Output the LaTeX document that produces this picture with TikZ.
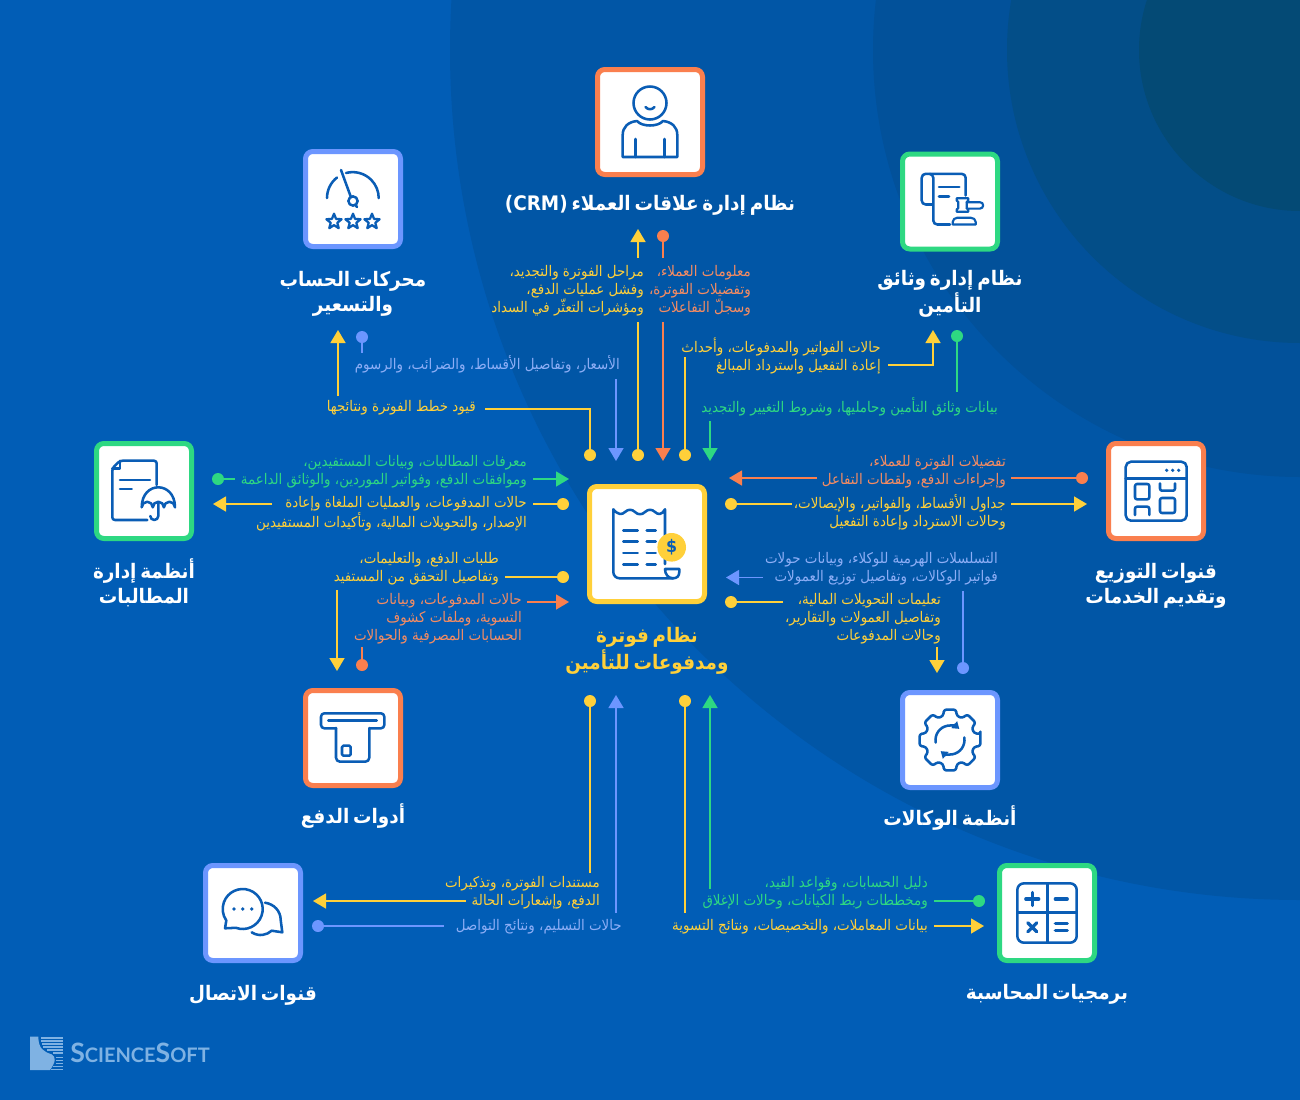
\documentclass[tikz,border=0pt]{standalone}
\usepackage{fontspec}
\usetikzlibrary{arrows.meta}
\TeXXeTstate=1
\newfontfamily\arabicfont[Script=Arabic,FakeStretch=0.915]{DejaVu Sans}
\newfontfamily\titlefont[Script=Arabic,FakeStretch=0.92,WordSpace=0.6]{DejaVu Sans}
\newfontfamily\logofont{Lato}
\definecolor{bgA}{HTML}{015DB6}
\definecolor{bgB}{HTML}{0156A6}
\definecolor{bgC}{HTML}{02519A}
\definecolor{bgD}{HTML}{034E88}
\definecolor{bgE}{HTML}{044A75}
\definecolor{yel}{HTML}{FFD03A}
\definecolor{org}{HTML}{FA7F4E}
\definecolor{blu}{HTML}{6C96FF}
\definecolor{grn}{HTML}{2ED882}
\definecolor{tblu}{HTML}{8DAEF6}
\definecolor{torg}{HTML}{F58C62}
\definecolor{ink}{HTML}{0A5DB5}
\definecolor{logoc}{HTML}{7FB2E3}
\newcommand\rtl[1]{\beginR\rule[-3.4pt]{0pt}{13.5pt}#1\endR}
\newcommand\ttlr[1]{\beginR\rule[-4.4pt]{0pt}{18.75pt}#1\endR}
\newcommand\iconstar[2]{\draw[iconl,shift={(#1,#2)},line width=1.7pt] (-90:8)--(-54:3.5)--(-18:8)--(18:3.5)--(54:8)--(90:3.5)--(126:8)--(162:3.5)--(198:8)--(234:3.5)--cycle;}
\tikzset{
  sbox/.style={draw,fill=white,line width=3.75pt,rounded corners=5.5pt,minimum size=71.25pt,inner sep=0pt},
  lbl/.style={font=\arabicfont\fontsize{11}{13.5}\selectfont,align=right,anchor=east,inner sep=0pt},
  ttl/.style={font=\titlefont\bfseries\fontsize{15}{18.75}\selectfont,align=center,anchor=center,inner sep=0pt,text=white},
  jdot/.style={circle,fill=#1,minimum size=9pt,inner sep=0pt},
  wire/.style={draw=#1,line width=1.15pt},
  arr/.style={draw=#1,line width=1.15pt,-{Triangle[length=9.75pt,width=11.25pt,fill=#1]}},
  iconl/.style={draw=ink,line width=1.9pt,line cap=round,line join=round},
}
\begin{document}
\begin{tikzpicture}[x=0.75pt,y=-0.75pt]
\useasboundingbox (0,0) rectangle (1300,1100);
\begin{scope}
\clip (0,0) rectangle (1300,1100);
\fill[bgA] (0,0) rectangle (1300,1100);
\fill[bgB] (1300,50) circle[radius=850];
\fill[bgC] (1300,50) circle[radius=427];
\fill[bgD] (1300,50) circle[radius=293];
\fill[bgE] (1300,50) circle[radius=161];
\end{scope}

% ---------- boxes
\node[sbox,draw=org,minimum size=78.75pt] (crm) at (650,122) {};
\node[sbox,draw=blu] (pricing) at (353,199) {};
\node[sbox,draw=grn] (policy) at (950,201.5) {};
\node[sbox,draw=grn] (claims) at (144,491) {};
\node[sbox,draw=org] (dist) at (1156,491) {};
\node[sbox,draw=yel,minimum size=86.25pt] (core) at (647,544) {};
\node[sbox,draw=org] (pay) at (353,738) {};
\node[sbox,draw=blu] (agency) at (950,740) {};
\node[sbox,draw=blu] (comm) at (253,913) {};
\node[sbox,draw=grn] (acc) at (1047,913) {};

% ---------- titles
\node[ttl] (tcrm) at (650,204) {\beginL(CRM) \endL\ttlr{نظام إدارة علاقات العملاء}};
\node[ttl] (tpricing) at (353,292.5) {\ttlr{محركات الحساب}\\\ttlr{والتسعير}};
\node[ttl] (tpolicy) at (950,292.5) {\ttlr{نظام إدارة وثائق}\\\ttlr{التأمين}};
\node[ttl] (tclaims) at (144,583.5) {\ttlr{أنظمة إدارة}\\\ttlr{المطالبات}};
\node[ttl] (tdist) at (1156,584.5) {\ttlr{قنوات التوزيع}\\\ttlr{وتقديم الخدمات}};
\node[ttl,text=yel] (tcore) at (647,649.5) {\ttlr{نظام فوترة}\\\ttlr{ومدفوعات للتأمين}};
\node[ttl] (tpay) at (353,816) {\ttlr{أدوات الدفع}};
\node[ttl] (tagency) at (950,818) {\ttlr{أنظمة الوكالات}};
\node[ttl] (tcomm) at (253,994) {\ttlr{قنوات الاتصال}};
\node[ttl] (tacc) at (1047,993) {\ttlr{برمجيات المحاسبة}};

% ---------- labels
\node[lbl,text=yel] (l1) at (644,290) {\rtl{مراحل الفوترة والتجديد،}\\\rtl{وفشل عمليات الدفع،}\\\rtl{ومؤشرات التعثّر في السداد}};
\node[lbl,text=torg] (l2) at (751,290) {\rtl{معلومات العملاء،}\\\rtl{وتفضيلات الفوترة،}\\\rtl{وسجلّ التفاعلات}};
\node[lbl,text=tblu] (l3) at (620,365) {\rtl{الأسعار، وتفاصيل الأقساط، والضرائب، والرسوم}};
\node[lbl,text=yel] (l4) at (476,407) {\rtl{قيود خطط الفوترة ونتائجها}};
\node[lbl,text=yel] (l5) at (881,356) {\rtl{حالات الفواتير والمدفوعات، وأحداث}\\\rtl{إعادة التفعيل واسترداد المبالغ}};
\node[lbl,text=grn] (l6) at (998,407) {\rtl{بيانات وثائق التأمين وحامليها، وشروط التغيير والتجديد}};
\node[lbl,text=grn] (l7) at (527,471) {\rtl{معرفات المطالبات، وبيانات المستفيدين،}\\\rtl{وموافقات الدفع، وفواتير الموردين، والوثائق الداعمة}};
\node[lbl,text=yel] (l8) at (527,513) {\rtl{حالات المدفوعات، والعمليات الملغاة وإعادة}\\\rtl{الإصدار، والتحويلات المالية، وتأكيدات المستفيدين}};
\node[lbl,text=yel] (l9) at (499,568) {\rtl{طلبات الدفع، والتعليمات،}\\\rtl{وتفاصيل التحقق من المستفيد}};
\node[lbl,text=torg] (l10) at (522,618) {\rtl{حالات المدفوعات، وبيانات}\\\rtl{التسوية، وملفات كشوف}\\\rtl{الحسابات المصرفية والحوالات}};
\node[lbl,text=torg] (l11) at (1006,471) {\rtl{تفضيلات الفوترة للعملاء،}\\\rtl{وإجراءات الدفع، ولقطات التفاعل}};
\node[lbl,text=yel] (l12) at (1006,513) {\rtl{جداول الأقساط، والفواتير، والإيصالات،}\\\rtl{وحالات الاسترداد وإعادة التفعيل}};
\node[lbl,text=tblu] (l13) at (998,568) {\rtl{التسلسلات الهرمية للوكلاء، وبيانات حولات}\\\rtl{فواتير الوكالات، وتفاصيل توزيع العمولات}};
\node[lbl,text=yel] (l14) at (941,618) {\rtl{تعليمات التحويلات المالية،}\\\rtl{وتفاصيل العمولات والتقارير،}\\\rtl{وحالات المدفوعات}};
\node[lbl,text=yel] (l15) at (600,892) {\rtl{مستندات الفوترة، وتذكيرات}\\\rtl{الدفع، وإشعارات الحالة}};
\node[lbl,text=tblu] (l16) at (622,926) {\rtl{حالات التسليم، ونتائج التواصل}};
\node[lbl,text=grn] (l17) at (928,892) {\rtl{دليل الحسابات، وقواعد القيد،}\\\rtl{ومخططات ربط الكيانات، وحالات الإغلاق}};
\node[lbl,text=yel] (l18) at (928,926) {\rtl{بيانات المعاملات، والتخصيصات، ونتائج التسوية}};

% ---------- connector end points: dots
\node[jdot=yel] (d1) at (638,455) {};
\node[jdot=org] (d2) at (663,236) {};
\node[jdot=blu] (d3) at (362,337) {};
\node[jdot=yel] (d4) at (590,455) {};
\node[jdot=yel] (d5) at (685,455) {};
\node[jdot=grn] (d6) at (957,336) {};
\node[jdot=grn] (d7) at (218,479) {};
\node[jdot=yel] (d8) at (563,504) {};
\node[jdot=yel] (d9) at (563,577) {};
\node[jdot=org] (d10) at (362,665) {};
\node[jdot=org] (d11) at (1082,478) {};
\node[jdot=yel] (d12) at (731,504) {};
\node[jdot=blu] (d13) at (963,668) {};
\node[jdot=yel] (d14) at (731,602) {};
\node[jdot=yel] (d15) at (590,701) {};
\node[jdot=blu] (d16) at (318,926) {};
\node[jdot=yel] (d17) at (685,701) {};
\node[jdot=grn] (d18) at (979,901) {};

% ---------- connector coordinates
\coordinate (c1a) at (638,322); \coordinate (c1b) at (638,258); \coordinate (c1t) at (638,229);
\coordinate (c2a) at (663,258); \coordinate (c2b) at (663,322); \coordinate (c2t) at (663,461);
\coordinate (c3a) at (362,353); \coordinate (c3b) at (616,379); \coordinate (c3t) at (616,461);
\coordinate (c4a) at (485,409); \coordinate (c4b) at (338,396); \coordinate (c4t) at (338,330);
\coordinate (c5a) at (685,357); \coordinate (c5b) at (888,365); \coordinate (c5t) at (933,330);
\coordinate (c6a) at (957,392); \coordinate (c6b) at (710,421); \coordinate (c6t) at (710,461);
\coordinate (c7a) at (235,479); \coordinate (c7b) at (533,479); \coordinate (c7t) at (569,479);
\coordinate (c8a) at (533,504); \coordinate (c8b) at (272,504); \coordinate (c8t) at (213,504);
\coordinate (c9a) at (505,577); \coordinate (c9b) at (337,590); \coordinate (c9t) at (337,671);
\coordinate (c10a) at (362,647); \coordinate (c10b) at (527,602); \coordinate (c10t) at (569,602);
\coordinate (c11a) at (1011,478); \coordinate (c11b) at (817,478); \coordinate (c11t) at (729,478);
\coordinate (c12a) at (792,504); \coordinate (c12b) at (1011,504); \coordinate (c12t) at (1087,504);
\coordinate (c13a) at (963,591); \coordinate (c13b) at (763,577.5); \coordinate (c13t) at (726,577.5);
\coordinate (c14a) at (783,602); \coordinate (c14b) at (937,647); \coordinate (c14t) at (937,673);
\coordinate (c15a) at (590,873); \coordinate (c15b) at (466,901); \coordinate (c15t) at (313,901);
\coordinate (c16a) at (444,926); \coordinate (c16b) at (616,913); \coordinate (c16t) at (616,695);
\coordinate (c17a) at (685,913); \coordinate (c17b) at (934,926); \coordinate (c17t) at (984,926);
\coordinate (c18a) at (934,901); \coordinate (c18b) at (710,889); \coordinate (c18t) at (710,695);

% ---------- connectors
\draw[wire=yel] (d1) -- (c1a); \draw[arr=yel] (c1b) -- (c1t);
\draw[wire=org] (d2) -- (c2a); \draw[arr=org] (c2b) -- (c2t);
\draw[wire=blu] (d3) -- (c3a); \draw[arr=blu] (c3b) -- (c3t);
\draw[wire=yel] (d4) |- (c4a); \draw[arr=yel] (c4b) -- (c4t);
\draw[wire=yel] (d5) -- (c5a); \draw[arr=yel] (c5b) -| (c5t);
\draw[wire=grn] (d6) -- (c6a); \draw[arr=grn] (c6b) -- (c6t);
\draw[wire=grn] (d7) -- (c7a); \draw[arr=grn] (c7b) -- (c7t);
\draw[wire=yel] (d8) -- (c8a); \draw[arr=yel] (c8b) -- (c8t);
\draw[wire=yel] (d9) -- (c9a); \draw[arr=yel] (c9b) -- (c9t);
\draw[wire=org] (d10) -- (c10a); \draw[arr=org] (c10b) -- (c10t);
\draw[wire=org] (d11) -- (c11a); \draw[arr=org] (c11b) -- (c11t);
\draw[wire=yel] (d12) -- (c12a); \draw[arr=yel] (c12b) -- (c12t);
\draw[wire=blu] (d13) -- (c13a); \draw[arr=blu] (c13b) -- (c13t);
\draw[wire=yel] (d14) -- (c14a); \draw[arr=yel] (c14b) -- (c14t);
\draw[wire=yel] (d15) -- (c15a); \draw[arr=yel] (c15b) -- (c15t);
\draw[wire=blu] (d16) -- (c16a); \draw[arr=blu] (c16b) -- (c16t);
\draw[wire=yel] (d17) -- (c17a); \draw[arr=yel] (c17b) -- (c17t);
\draw[wire=grn] (d18) -- (c18a); \draw[arr=grn] (c18b) -- (c18t);

% ---------- icon: CRM person
\begin{scope}[shift={(650,122)}]
\draw[iconl] (0,-19) circle[radius=16.5];
\draw[iconl] (-4.5,-15) .. controls (-2,-12) and (2,-12) .. (4.5,-15);
\draw[iconl] (-13,-1) .. controls (-8,5) and (8,5) .. (13,-1) .. controls (22,0) and (27.3,5) .. (27.3,13) -- (27.3,35) -- (-27.3,35) -- (-27.3,13) .. controls (-27.3,5) and (-22,0) .. (-13,-1) -- cycle;
\draw[iconl] (-14.5,17) -- (-14.5,35) (14.5,17) -- (14.5,35);
\end{scope}

% ---------- icon: gauge
\begin{scope}[shift={(353,199)}]
\draw[iconl] (-26,-1) arc[start angle=180,end angle=232,radius=26];
\draw[iconl] (-7,-26) arc[start angle=-105,end angle=0,radius=26];
\draw[iconl] (-12,-29) -- (-2.3,-2.5);
\draw[iconl] (0,2) circle[radius=4.6];
\draw[iconl] (2.5,6) -- (4,8);
\iconstar{-19}{22.7}
\iconstar{0}{22.7}
\iconstar{19}{22.7}
\end{scope}

% ---------- icon: policy and gavel
\begin{scope}[shift={(950,201.5)}]
\draw[iconl,rounded corners=3pt] (-16.7,3) -- (-28.3,3) -- (-28.3,-27.7) -- (-16.7,-27.7) -- (-16.7,23) -- (0,23);
\draw[iconl,rounded corners=3pt] (-20,-27.7) -- (15.7,-27.7) -- (15.7,-6);
\draw[iconl] (-11,-14.3) -- (9.3,-14.3) (-11,-5) -- (-1,-5);
\draw[iconl,line width=1.6pt] (6.7,-3.2) -- (18.3,-3.2) -- (18.3,-1) -- (16.7,0.5) -- (16.7,6.5) -- (18.3,8) -- (18.3,10.2) -- (6.7,10.2) -- (6.7,8) -- (8.3,6.5) -- (8.3,0.5) -- (6.7,-1) -- cycle;
\draw[iconl,line width=1.6pt] (16.7,0.7) -- (30,0.7) arc[start angle=-90,end angle=90,radius=3.2] -- (16.7,7.1);
\draw[iconl,line width=1.6pt] (2.7,23) -- (2.7,20.5) .. controls (2.7,18) and (5,16.3) .. (7,16.3) -- (21,16.3) .. controls (23.5,16.3) and (25.7,18) .. (25.7,20.5) -- (25.7,23) -- cycle;
\end{scope}

% ---------- icon: claims
\begin{scope}[shift={(144,491)}]
\draw[iconl] (12.7,-6) -- (12.7,-27) [rounded corners=2pt] -- (12.7,-30.3) -- (-24,-30.3) -- (-31.7,-22.7) -- (-31.7,29) -- (3.3,29);
\draw[iconl] (-24,-30.3) -- (-24,-22.7) -- (-31.7,-22.7);
\draw[iconl] (-24,-11) -- (6,-11) (-24,-2) -- (-12.3,-2);
\draw[iconl] (-2.3,16.3) .. controls (-2.3,3) and (6,-3.7) .. (14.3,-3.7) .. controls (22.6,-3.7) and (31,3) .. (31,16.3)
  arc[start angle=0,end angle=-180,radius=5.55] arc[start angle=0,end angle=-180,radius=5.55] arc[start angle=0,end angle=-180,radius=5.55];
\draw[iconl] (14.3,12) -- (14.3,25) arc[start angle=0,end angle=180,radius=4];
\end{scope}

% ---------- icon: window
\begin{scope}[shift={(1156,491)}]
\draw[iconl] (-30.3,-24) arc[start angle=180,end angle=270,radius=5.3] -- (25.4,-29.3) arc[start angle=-90,end angle=0,radius=5.3] -- (30.7,24.4) arc[start angle=0,end angle=90,radius=5.3] -- (-25,29.7) arc[start angle=90,end angle=180,radius=5.3] -- cycle;
\draw[iconl] (-30.3,-12.7) -- (30.7,-12.7);
\fill[ink] (10.7,-20.7) circle[radius=1.8] (16.7,-20.7) circle[radius=1.8] (22.7,-20.7) circle[radius=1.8];
\draw[iconl,rounded corners=1.5pt] (-21,-7) rectangle (-6.7,8.3);
\draw[iconl,rounded corners=1.5pt] (4,-7.7) -- (4,-0.3) -- (19,-0.3) -- (19,-7.7);
\draw[iconl,rounded corners=1.5pt] (4,7) rectangle (19,22);
\draw[iconl,rounded corners=1.5pt] (-21,24) -- (-21,15.7) -- (-6.7,15.7) -- (-6.7,24);
\end{scope}

% ---------- icon: receipt
\begin{scope}[shift={(647,544)}]
\draw[iconl] (18,20) -- (18,-34.7) .. controls (15,-29) and (11,-29) .. (8,-32) .. controls (5,-35) and (1,-35) .. (-2,-32) .. controls (-5,-29) and (-9,-29) .. (-12,-32) .. controls (-15,-35) and (-19,-35) .. (-22,-32) .. controls (-25,-29) and (-29,-29) .. (-33.7,-34.7) -- (-33.7,28) arc[start angle=180,end angle=90,radius=6.3] -- (26,34.3);
\draw[iconl] (18,25) -- (32.3,25) -- (32.3,28) .. controls (32.3,32) and (30,34.3) .. (26,34.3) .. controls (21,34.3) and (18,30) .. (18,25);
\draw[iconl] (-23.7,-13.7) -- (-9.3,-13.7) (-0.3,-13.7) -- (8.7,-13.7)
  (-23.7,-2.3) -- (-9.3,-2.3) (-0.3,-2.3) -- (8.7,-2.3)
  (-23.7,9) -- (-9.3,9) (-0.3,9) -- (8.7,9)
  (-23.7,20.3) -- (-9.3,20.3) (-0.3,20.3) -- (8.7,20.3);
\fill[yel] (24.7,3.3) circle[radius=14.3];
\node[text=ink,font=\arabicfont\bfseries\fontsize{13}{13}\selectfont,inner sep=0pt] (coin) at (24.7,3.3) {\$};
\end{scope}

% ---------- icon: card slot
\begin{scope}[shift={(353,738)}]
\draw[iconl,rounded corners=2.5pt] (-17,-9.7) -- (-32,-9.7) -- (-32,-24.7) -- (31.3,-24.7) -- (31.3,-9.7) -- (16.3,-9.7);
\draw[iconl] (-24.7,-17.3) -- (23.7,-17.3);
\draw[iconl,rounded corners=3pt] (-17,-10) -- (-17,23.7) -- (16.3,23.7) -- (16.3,-10);
\draw[iconl,rounded corners=1pt] (-11,7.7) rectangle (-2.3,17.7);
\end{scope}

% ---------- icon: gear
\begin{scope}[shift={(950,740)}]
\draw[iconl,rounded corners=1.8pt] (-11:31) \foreach \a in {0,45,...,315} { -- ({\a-11}:31) -- ({\a+11}:31) -- ({\a+16}:25) -- ({\a+29}:25) } -- cycle;
\draw[iconl,-{Triangle[length=5pt,width=6.5pt,fill=ink]}] (170:14.5) arc[start angle=170,end angle=310,radius=14.5];
\draw[iconl,-{Triangle[length=5pt,width=6.5pt,fill=ink]}] (-10:14.5) arc[start angle=-10,end angle=130,radius=14.5];
\end{scope}

% ---------- icon: chat
\begin{scope}[shift={(253,913)}]
\draw[iconl] (110:20) ++(-10.3,-4) arc[start angle=110,end angle=-215,radius=20] -- (-28,15.3) -- cycle;
\fill[ink] (-19,-4) circle[radius=1.9] (-10.3,-4) circle[radius=1.9] (-1.3,-4) circle[radius=1.9];
\draw[iconl] (12,-10.3) .. controls (21,-9) and (27.7,-2) .. (27.7,7) -- (29.3,19.3) -- (18.7,17.7) .. controls (14,22) and (6,24) .. (-1.3,19.3);
\end{scope}

% ---------- icon: calculator
\begin{scope}[shift={(1047,913)}]
\draw[iconl,rounded corners=5pt] (-29.7,-29.7) rectangle (29.7,29.7);
\draw[iconl] (0.3,-29.7) -- (0.3,29.7) (-29.7,-0.3) -- (29.7,-0.3);
\draw[iconl,line width=2.4pt] (-21.2,-14) -- (-8.2,-14) (-14.7,-20.5) -- (-14.7,-7.5);
\draw[iconl,line width=2.4pt] (8.3,-14) -- (20.3,-14);
\draw[iconl,line width=2.4pt] (-19.2,9.8) -- (-10.2,18.8) (-19.2,18.8) -- (-10.2,9.8);
\draw[iconl,line width=2.4pt] (8.3,10.8) -- (20.3,10.8) (8.3,17.8) -- (20.3,17.8);
\end{scope}

% ---------- logo
\begin{scope}[shift={(10,1020)},x=0.25pt,y=-0.25pt]
\fill[logoc] (60,50) -- (85,50) .. controls (85,85) and (100,95) .. (125,103) .. controls (138,110) and (138,125) .. (120,150) -- (60,150) -- cycle;
\foreach \yy/\xx in {53/92,62/92,71/95,80/100,89/112,98/130,112/138,121/138,130/137,139/130,148/122}
  \fill[logoc] (\xx,\yy-2.5) rectangle (160,\yy+2.5);
\end{scope}
\node[text=logoc,anchor=west,inner sep=0pt,font=\logofont\bfseries] (logo) at (70,1053) {\fontsize{20}{20}\selectfont S\fontsize{15}{15}\selectfont CIENCE\fontsize{20}{20}\selectfont S\fontsize{15}{15}\selectfont OFT};
\end{tikzpicture}
\end{document}
